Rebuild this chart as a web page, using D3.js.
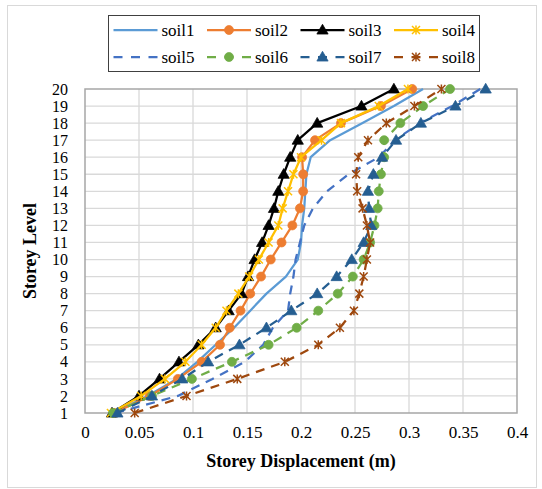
<!DOCTYPE html>
<html><head><meta charset="utf-8">
<script src="https://cdn.jsdelivr.net/npm/d3@7/dist/d3.min.js"></script>
<style>body{margin:0;background:#fff}svg{display:block}svg text{font-family:"Liberation Serif",serif;}</style>
</head><body>
<svg id="c" width="542" height="489"></svg>
<script>
const levels = d3.range(1, 21);
const xTicks = [0, 0.05, 0.1, 0.15, 0.2, 0.25, 0.3, 0.35, 0.4];
const seriesNames = ["soil1","soil2","soil3","soil4","soil5","soil6","soil7","soil8"];
const soil1 = [0.026,0.058,0.085,0.104,0.121,0.138,0.153,0.168,0.186,0.197,0.200,0.201,0.203,0.204,0.205,0.209,0.227,0.257,0.286,0.313];
const soil2 = [0.027,0.060,0.086,0.108,0.125,0.134,0.144,0.153,0.163,0.172,0.182,0.192,0.199,0.202,0.202,0.201,0.213,0.237,0.274,0.303];
const soil3 = [0.025,0.050,0.069,0.087,0.105,0.121,0.133,0.145,0.151,0.157,0.164,0.170,0.175,0.179,0.184,0.190,0.197,0.215,0.256,0.286];
const soil4 = [0.024,0.052,0.074,0.093,0.108,0.121,0.131,0.142,0.152,0.161,0.170,0.179,0.183,0.188,0.193,0.200,0.219,0.237,0.272,0.299];
const soil5 = [0.028,0.086,0.118,0.148,0.165,0.174,0.188,0.190,0.193,0.195,0.199,0.203,0.211,0.224,0.244,0.272,0.287,0.310,0.340,0.366];
const soil6 = [0.026,0.062,0.099,0.136,0.170,0.196,0.216,0.234,0.248,0.258,0.264,0.268,0.271,0.272,0.274,0.277,0.277,0.292,0.313,0.338];
const soil7 = [0.030,0.062,0.090,0.114,0.143,0.168,0.191,0.215,0.233,0.247,0.258,0.265,0.263,0.262,0.267,0.275,0.288,0.311,0.343,0.371];
const soil8 = [0.046,0.094,0.141,0.185,0.216,0.236,0.249,0.254,0.258,0.261,0.264,0.261,0.257,0.252,0.251,0.253,0.262,0.279,0.305,0.330];
const allValues = [soil1,soil2,soil3,soil4,soil5,soil6,soil7,soil8];

const styles = [
  {color:"#5B9BD5", dash:null, marker:null},
  {color:"#ED7D31", dash:null, marker:"circle"},
  {color:"#000000", dash:null, marker:"triangle"},
  {color:"#FFC000", dash:null, marker:"star"},
  {color:"#4472C4", dash:"9,7", marker:null},
  {color:"#70AD47", dash:"9,7", marker:"circle"},
  {color:"#255E91", dash:"9,7", marker:"triangle"},
  {color:"#9E480E", dash:"9,7", marker:"star"}
];

const svg = d3.select("#c");
const font = '"Liberation Serif", serif';
svg.append("rect").attr("x",7.5).attr("y",5.5).attr("width",529).attr("height",482)
  .attr("fill","#fff").attr("stroke","#d9d9d9").attr("stroke-width",1);

const L = 85, R = 517, T = 89, B = 413;
const x = d3.scaleLinear().domain([0,0.4]).range([L,R]);
const y = d3.scaleLinear().domain([1,20]).range([B,T]);

const g = svg.append("g");
g.append("g").selectAll("line").data(xTicks.slice(1,-1)).join("line")
  .attr("x1",d=>x(d)).attr("x2",d=>x(d)).attr("y1",T).attr("y2",B)
  .attr("stroke","#d9d9d9").attr("stroke-width",1.3);
g.append("g").selectAll("line").data(levels.slice(1,-1)).join("line")
  .attr("y1",d=>y(d)).attr("y2",d=>y(d)).attr("x1",L).attr("x2",R)
  .attr("stroke","#d9d9d9").attr("stroke-width",1.3);
g.append("rect").attr("x",L).attr("y",T).attr("width",R-L).attr("height",B-T)
  .attr("fill","none").attr("stroke","#a6a6a6").attr("stroke-width",1.5);

const xAxis = d3.axisBottom(x).tickValues(xTicks).tickSize(0).tickPadding(13)
  .tickFormat(d=>String(+d.toFixed(2)));
const xa = svg.append("g").attr("transform",`translate(0,${B})`).call(xAxis);
xa.attr("font-family",null).attr("font-size",null);
xa.select(".domain").remove();
xa.selectAll("text").style("font-family",font).style("font-size","17px").attr("fill","#000");

const yAxis = d3.axisLeft(y).tickValues(levels).tickSize(0).tickPadding(17).tickFormat(d3.format("d"));
const ya = svg.append("g").attr("transform",`translate(${L},0)`).call(yAxis);
ya.attr("font-family",null).attr("font-size",null);
ya.select(".domain").remove();
ya.selectAll("text").style("font-family",font).style("font-size","16px").attr("fill","#000");

svg.append("text").attr("x",301).attr("y",467).attr("text-anchor","middle")
  .style("font-family",font).style("font-weight","bold").style("font-size","18px")
  .text("Storey Displacement (m)");
svg.append("text").attr("transform","translate(36,251) rotate(-90)").attr("text-anchor","middle")
  .style("font-family",font).style("font-weight","bold").style("font-size","18px")
  .text("Storey Level");

function drawMarker(sel, type, color, cx, cy){
  if(type==="circle"){
    sel.append("circle").attr("cx",cx).attr("cy",cy).attr("r",4.5).attr("fill",color).attr("stroke",color).attr("stroke-width",0.75);
  } else if(type==="triangle"){
    sel.append("path").attr("d",d3.symbol(d3.symbolTriangle,55)()).attr("transform",`translate(${cx},${cy+0.8})`)
      .attr("fill",color).attr("stroke",color).attr("stroke-width",0.75);
  } else if(type==="star"){
    const s=4;
    sel.append("path").attr("d",`M${cx-s},${cy-s}L${cx+s},${cy+s}M${cx-s},${cy+s}L${cx+s},${cy-s}M${cx},${cy-s-0.5}L${cx},${cy+s+0.5}`)
      .attr("stroke",color).attr("stroke-width",1.5).attr("fill","none");
  }
}

const line = d3.line().x(d=>x(d[0])).y(d=>y(d[1]));
const plot = svg.append("g");
allValues.forEach((vals,i)=>{
  const st = styles[i];
  const pts = vals.map((v,j)=>[v, levels[j]]);
  const sg = plot.append("g");
  sg.append("path").attr("d",line(pts)).attr("fill","none").attr("stroke",st.color)
    .attr("stroke-width",2.25).attr("stroke-dasharray",st.dash).attr("stroke-linejoin","round");
  if(st.marker) pts.forEach(p=>drawMarker(sg, st.marker, st.color, x(p[0]), y(p[1])));
});

const lg = svg.append("g");
lg.append("rect").attr("x",108.5).attr("y",15.5).attr("width",371).attr("height",56)
  .attr("fill","#fff").attr("stroke","#404040").attr("stroke-width",1);
seriesNames.forEach((name,i)=>{
  const col = i%4, row = Math.floor(i/4);
  const x0 = 113.5 + col*93.5, yy = row===0 ? 30 : 57;
  const st = styles[i];
  lg.append("line").attr("x1",x0).attr("x2",x0+44).attr("y1",yy).attr("y2",yy)
    .attr("stroke",st.color).attr("stroke-width",2.25)
    .attr("stroke-dasharray", st.dash ? "9,8.5" : null);
  if(st.marker) drawMarker(lg, st.marker, st.color, x0+22, yy);
  lg.append("text").attr("x",x0+48).attr("y",yy+5.5).style("font-family",font).style("font-size","17px")
    .attr("fill","#000").text(name);
});
</script>
</body></html>
